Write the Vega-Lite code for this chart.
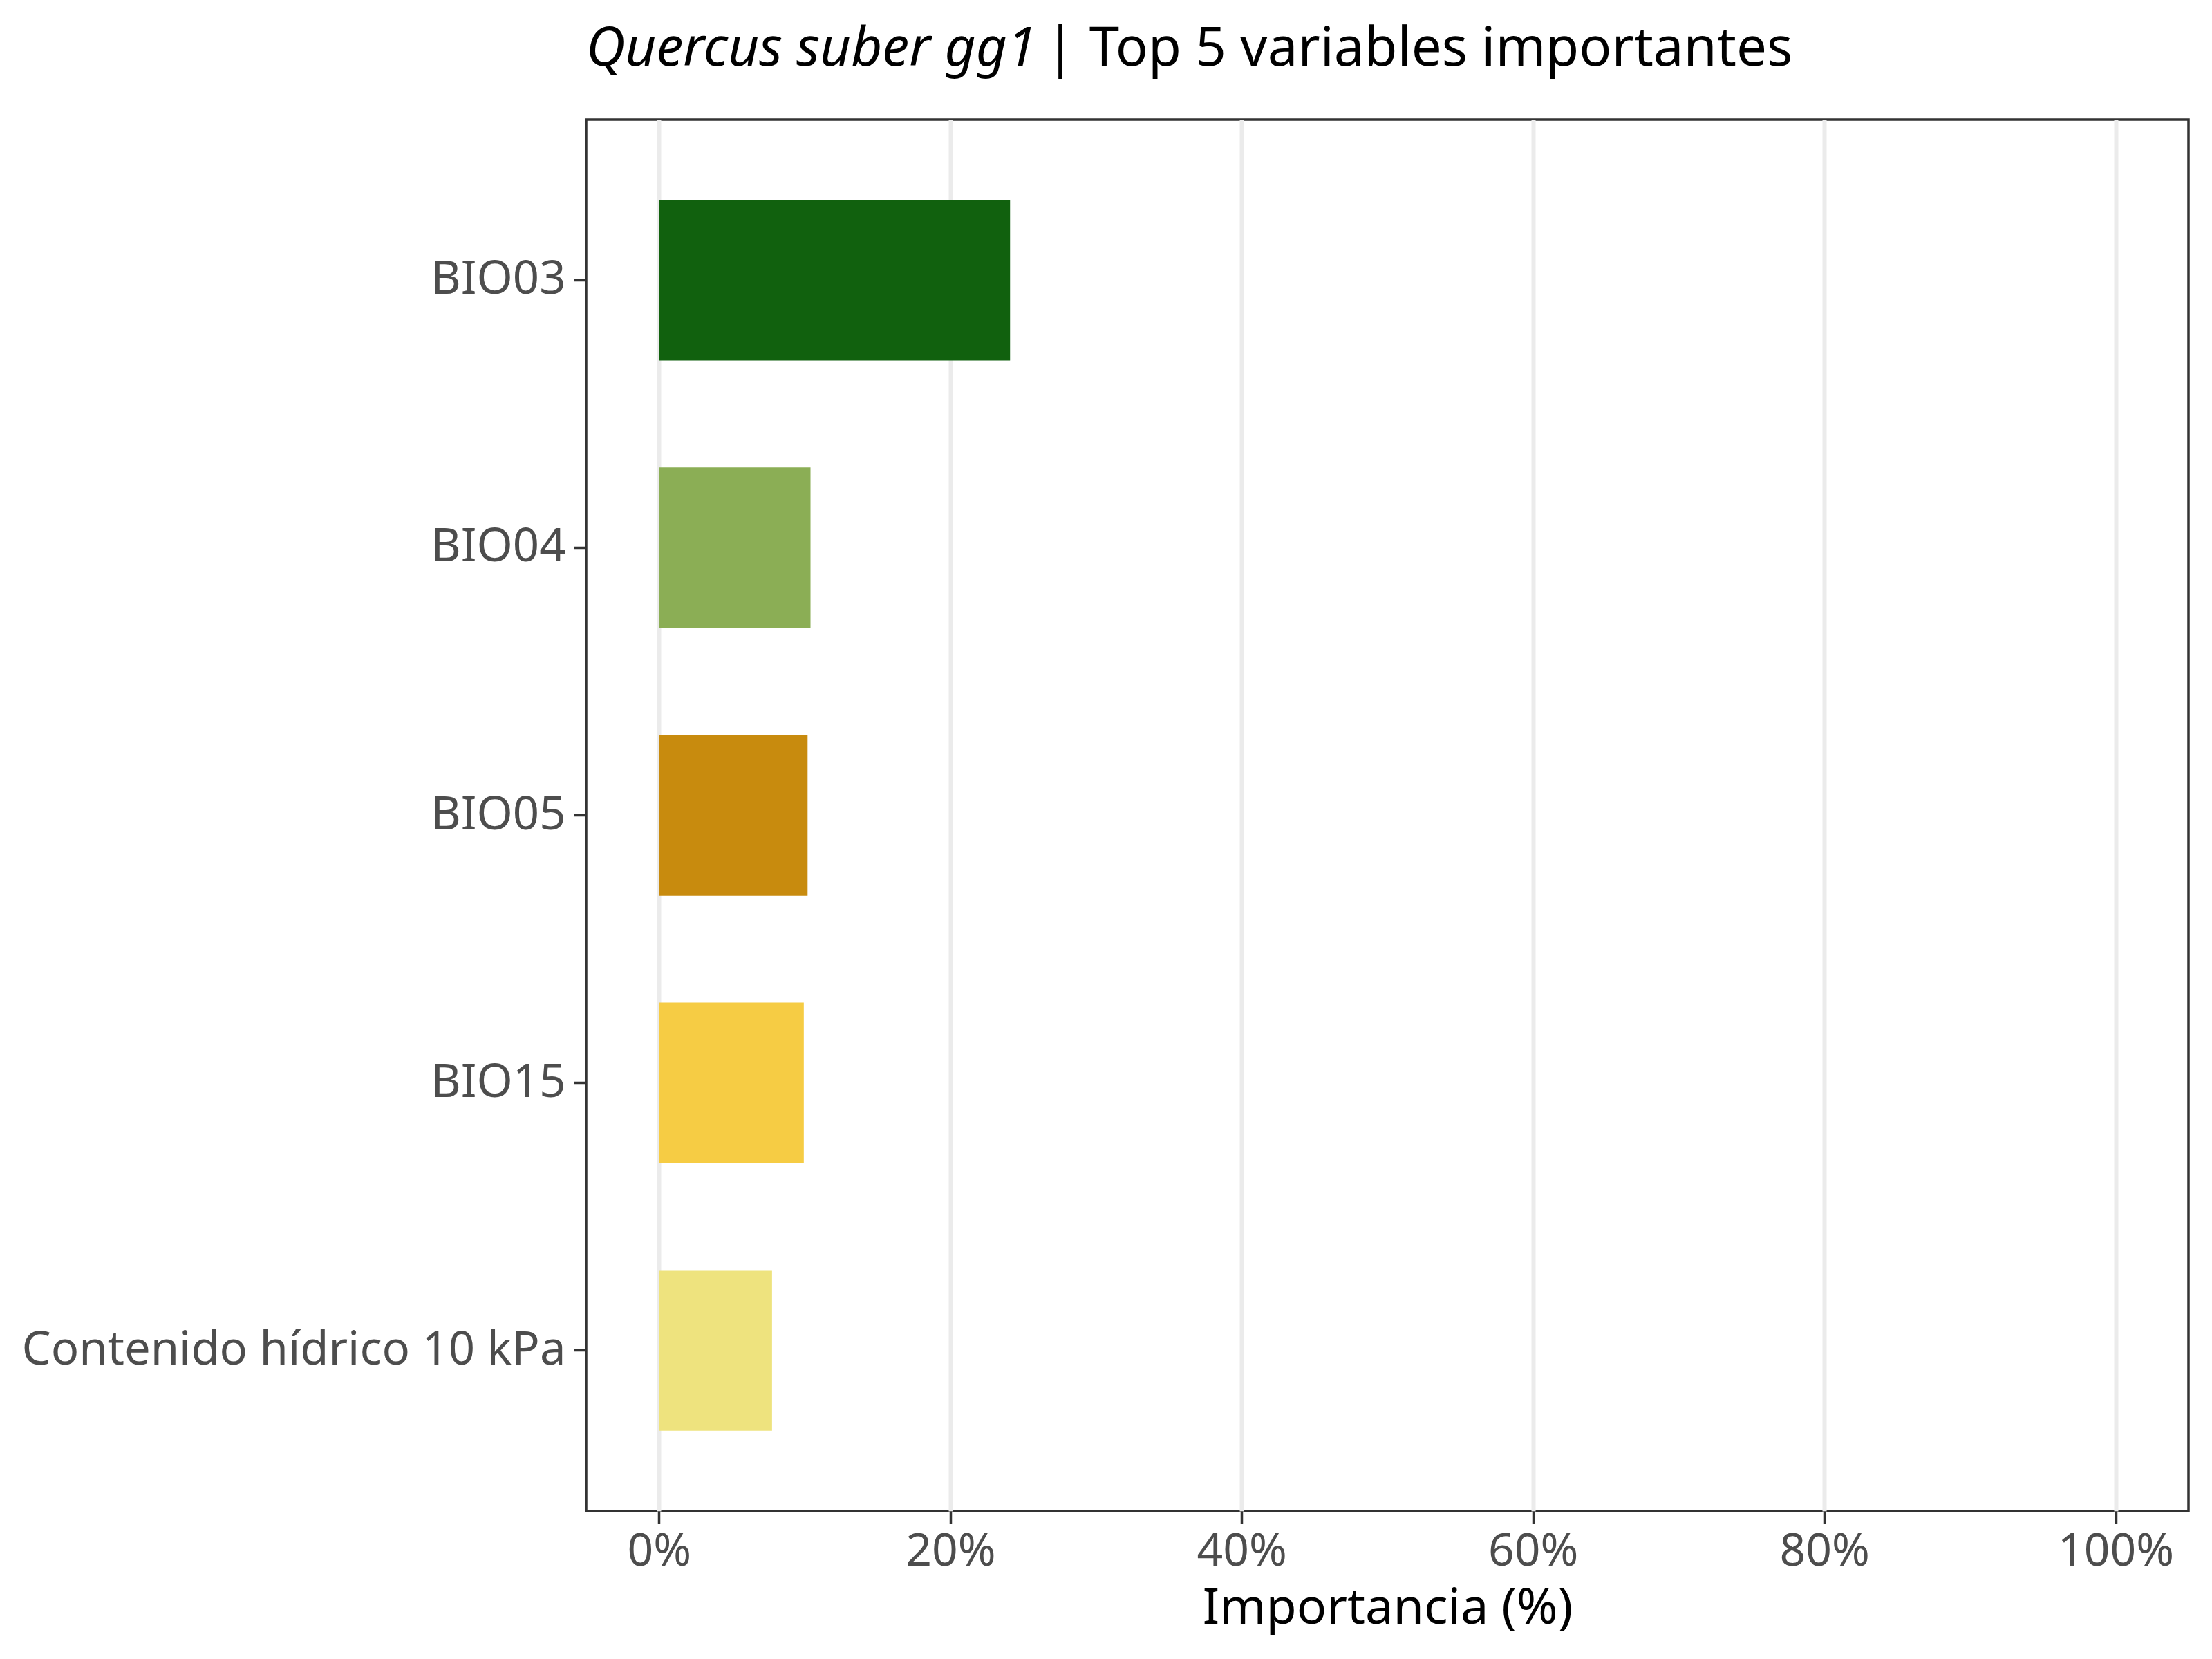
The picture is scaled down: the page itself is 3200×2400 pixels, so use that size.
{
  "$schema": "https://vega.github.io/schema/vega-lite/v6.json",
  "autosize": {"type": "none"},
  "width": 2318,
  "height": 2013,
  "padding": {"left": 848, "top": 173, "right": 34, "bottom": 214},
  "background": "white",
  "title": {
    "text": "Quercus suber gg1",
    "subtitle": "\u200b\u2003\u2003\u2003\u2003\u2003\u2003\u2003\u2003\u00a0\u00a0| Top 5 variables importantes",
    "anchor": "start",
    "frame": "group",
    "font": "Noto Sans",
    "fontSize": 78,
    "fontStyle": "italic",
    "fontWeight": "normal",
    "color": "black",
    "subtitleFont": "Noto Sans",
    "subtitleFontSize": 78,
    "subtitleFontStyle": "normal",
    "subtitleColor": "black",
    "subtitlePadding": -78,
    "offset": 62
  },
  "data": {
    "values": [
      {"variable": "BIO03", "importancia": 0.241},
      {"variable": "BIO04", "importancia": 0.104},
      {"variable": "BIO05", "importancia": 0.102},
      {"variable": "BIO15", "importancia": 0.0994},
      {"variable": "Contenido hídrico 10 kPa", "importancia": 0.0776}
    ]
  },
  "mark": "bar",
  "encoding": {
    "y": {
      "field": "variable",
      "type": "nominal",
      "sort": null,
      "scale": {"paddingInner": 0.4, "paddingOuter": 0.3},
      "axis": {
        "title": null,
        "grid": false,
        "domain": false,
        "ticks": true,
        "tickSize": 18,
        "tickWidth": 3.5,
        "tickColor": "#333333",
        "labelPadding": 12,
        "labelFontSize": 67,
        "labelColor": "#4D4D4D",
        "labelLimit": 0
      }
    },
    "x": {
      "field": "importancia",
      "type": "quantitative",
      "scale": {"domain": [-0.05, 1.05], "nice": false, "zero": false},
      "axis": {
        "values": [0, 0.2, 0.4, 0.6, 0.8, 1],
        "format": ".0%",
        "title": "Importancia (%)",
        "grid": true,
        "gridColor": "#EBEBEB",
        "gridWidth": 6,
        "domain": false,
        "ticks": true,
        "tickSize": 18,
        "tickWidth": 3.5,
        "tickColor": "#333333",
        "labelPadding": 8,
        "labelFontSize": 66,
        "labelColor": "#4D4D4D",
        "titleFontSize": 72,
        "titleFontWeight": "normal",
        "titleColor": "black",
        "titlePadding": 14
      }
    },
    "color": {
      "field": "variable",
      "type": "nominal",
      "scale": {
        "domain": ["BIO03", "BIO04", "BIO05", "BIO15", "Contenido hídrico 10 kPa"],
        "range": ["#11610E", "#8BAE55", "#C88B0E", "#F6CC44", "#EEE37E"]
      },
      "legend": null
    }
  },
  "config": {
    "font": "Noto Sans",
    "view": {"stroke": "#333333", "strokeWidth": 3.5}
  }
}
